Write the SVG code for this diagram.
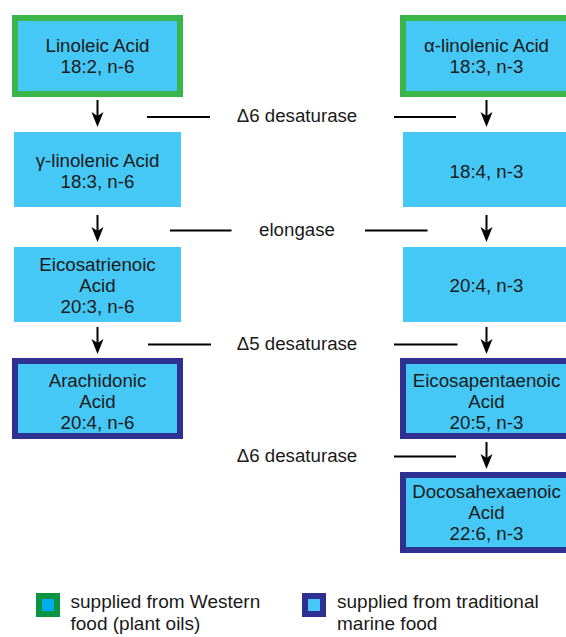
<svg xmlns="http://www.w3.org/2000/svg" xmlns:xlink="http://www.w3.org/1999/xlink" width="566" height="637" viewBox="0 0 566 637">
<style>
  .box { fill: #45c8f5; }
  .green { fill: #45c8f5; stroke: #3ab54a; stroke-width: 6; }
  .navy { fill: #45c8f5; stroke: #2e3192; stroke-width: 6; }
  text { font-family: "Liberation Sans", Arial, sans-serif; font-size: 18.7px; fill: #1a1a1a; }
  .c { text-anchor: middle; }
  .lg { font-size: 19px; }
  .ln { stroke: #000; stroke-width: 2; fill: none; }
  .ah { fill: #000; }
</style>
<defs>
  <path id="ah" d="M0 0 L-6 -15 L0 -11 L6 -15 Z"/>
</defs>
<rect width="566" height="637" fill="#fff"/>

<g id="connectors">
  <line class="ln" x1="97.5" y1="100" x2="97.5" y2="116"/>
  <use href="#ah" x="97.5" y="127" class="ah"/>
  <line class="ln" x1="486.5" y1="100" x2="486.5" y2="116"/>
  <use href="#ah" x="486.5" y="127" class="ah"/>
  <line class="ln" x1="147" y1="117" x2="210" y2="117"/>
  <line class="ln" x1="394" y1="117" x2="456" y2="117"/>

  <line class="ln" x1="97.5" y1="215" x2="97.5" y2="231"/>
  <use href="#ah" x="97.5" y="242" class="ah"/>
  <line class="ln" x1="486.5" y1="215" x2="486.5" y2="231"/>
  <use href="#ah" x="486.5" y="242" class="ah"/>
  <line class="ln" x1="170" y1="230.5" x2="231.5" y2="230.5"/>
  <line class="ln" x1="365" y1="230.5" x2="427.5" y2="230.5"/>

  <line class="ln" x1="97.5" y1="327" x2="97.5" y2="343"/>
  <use href="#ah" x="97.5" y="354" class="ah"/>
  <line class="ln" x1="486.5" y1="327" x2="486.5" y2="343"/>
  <use href="#ah" x="486.5" y="354" class="ah"/>
  <line class="ln" x1="148" y1="344.5" x2="211" y2="344.5"/>
  <line class="ln" x1="394" y1="344.5" x2="457.5" y2="344.5"/>

  <line class="ln" x1="486.5" y1="442" x2="486.5" y2="458"/>
  <use href="#ah" x="486.5" y="469" class="ah"/>
  <line class="ln" x1="394" y1="456.5" x2="456" y2="456.5"/>

  <text class="c" x="297" y="122">Δ6 desaturase</text>
  <text class="c" x="297" y="236">elongase</text>
  <text class="c" x="297" y="350">Δ5 desaturase</text>
  <text class="c" x="297" y="462">Δ6 desaturase</text>
</g>

<g id="linoleic">
  <rect class="green" x="15" y="18" width="165" height="76"/>
  <text class="c" x="97.5" y="51.5">Linoleic Acid</text>
  <text class="c" x="97.5" y="72.5">18:2, n-6</text>
</g>
<g id="alpha-linolenic">
  <rect class="green" x="403" y="18" width="167" height="76"/>
  <text class="c" x="486.5" y="51.5">α-linolenic Acid</text>
  <text class="c" x="486.5" y="72.5">18:3, n-3</text>
</g>
<g id="gamma-linolenic">
  <rect class="box" x="14" y="132" width="167" height="75"/>
  <text class="c" x="97.5" y="166.5">γ-linolenic Acid</text>
  <text class="c" x="97.5" y="188">18:3, n-6</text>
</g>
<g id="n3-18-4">
  <rect class="box" x="403" y="132" width="167" height="75"/>
  <text class="c" x="486.5" y="178">18:4, n-3</text>
</g>
<g id="eicosatrienoic">
  <rect class="box" x="14" y="247" width="167" height="75"/>
  <text class="c" x="97.5" y="270.5">Eicosatrienoic</text>
  <text class="c" x="97.5" y="291.5">Acid</text>
  <text class="c" x="97.5" y="312.5">20:3, n-6</text>
</g>
<g id="n3-20-4">
  <rect class="box" x="403" y="247" width="167" height="75"/>
  <text class="c" x="486.5" y="291.5">20:4, n-3</text>
</g>
<g id="arachidonic">
  <rect class="navy" x="15" y="361" width="165" height="75"/>
  <text class="c" x="97.5" y="386.5">Arachidonic</text>
  <text class="c" x="97.5" y="407.5">Acid</text>
  <text class="c" x="97.5" y="428.5">20:4, n-6</text>
</g>
<g id="eicosapentaenoic">
  <rect class="navy" x="403" y="361" width="167" height="75"/>
  <text class="c" x="486.5" y="386.5">Eicosapentaenoic</text>
  <text class="c" x="486.5" y="407.5">Acid</text>
  <text class="c" x="486.5" y="428.5">20:5, n-3</text>
</g>
<g id="docosahexaenoic">
  <rect class="navy" x="403" y="475" width="167" height="75"/>
  <text class="c" x="486.5" y="498">Docosahexaenoic</text>
  <text class="c" x="486.5" y="519">Acid</text>
  <text class="c" x="486.5" y="540">22:6, n-3</text>
</g>

<g id="legend">
  <rect x="39" y="596" width="18" height="18" fill="#00aeef" stroke="#0b9444" stroke-width="6"/>
  <text class="lg" x="70.5" y="607.5">supplied from Western</text>
  <text class="lg" x="70.5" y="630">food (plant oils)</text>
  <rect x="305" y="596" width="18" height="18" fill="#45c8f5" stroke="#2e3192" stroke-width="6"/>
  <text class="lg" x="337" y="607.5">supplied from traditional</text>
  <text class="lg" x="337" y="630">marine food</text>
</g>
</svg>
